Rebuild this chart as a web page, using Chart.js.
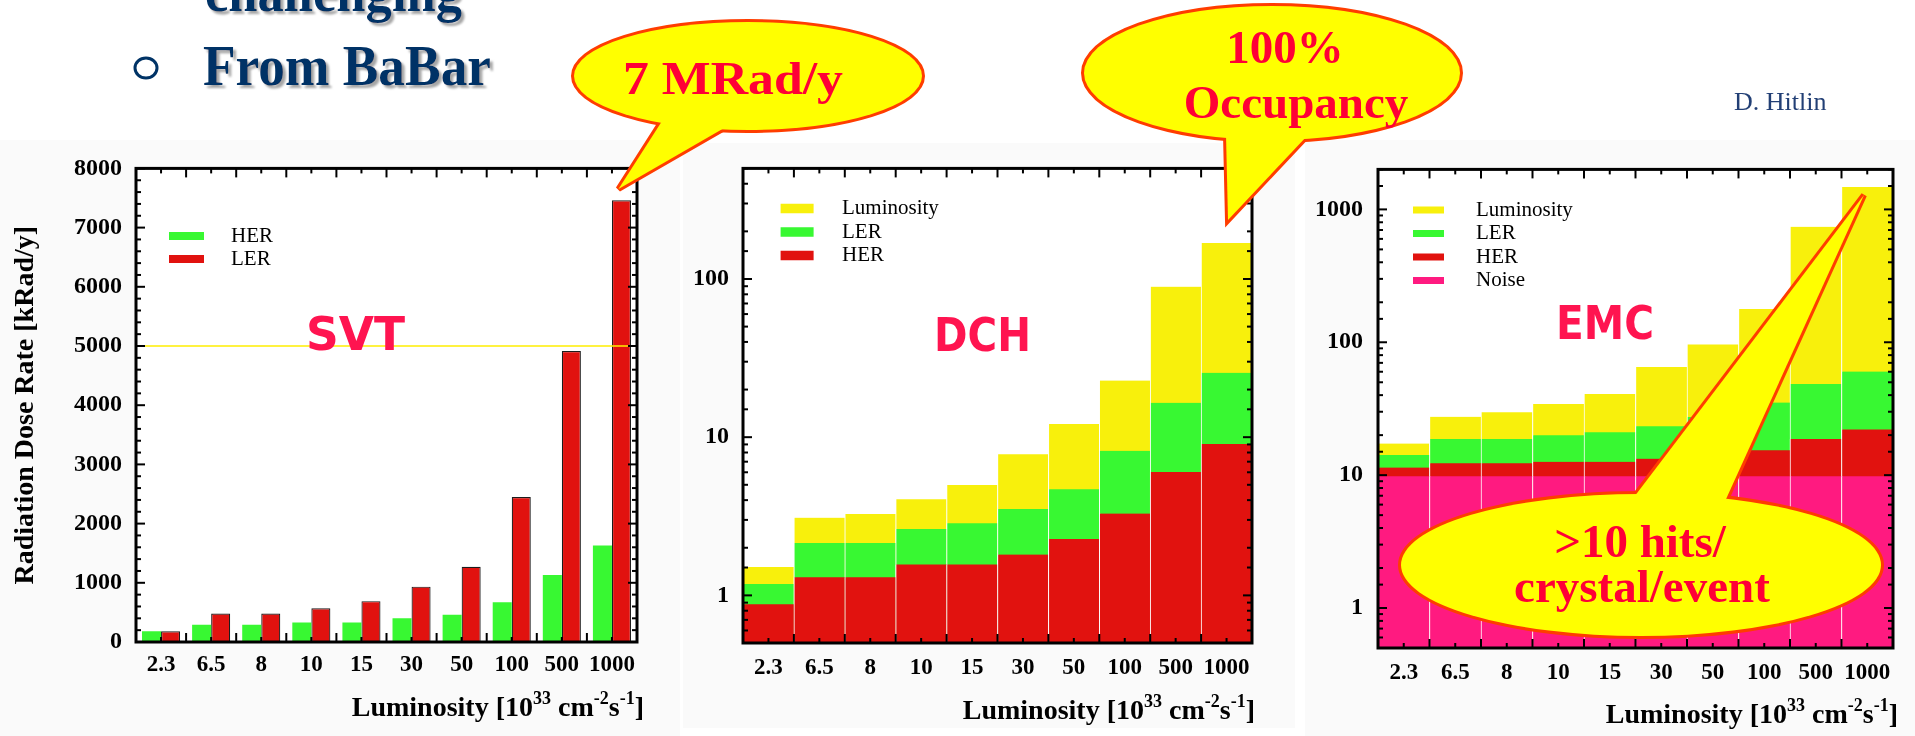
<!DOCTYPE html>
<html>
<head>
<meta charset="utf-8">
<script src="https://cdn.jsdelivr.net/npm/chart.js@4.4.1/dist/chart.umd.min.js"></script>
<style>
  html, body { margin: 0; padding: 0; background: #fff; }
  #page { position: relative; width: 1915px; height: 736px; overflow: hidden; background: #fff; }
  .panel { position: absolute; background: #fafafa; }
  canvas { position: absolute; }
  svg { position: absolute; left: 0; top: 0; }
</style>
</head>
<body>
<div id="page">
  <div class="panel" style="left:0;top:140px;width:680px;height:596px"></div>
  <div class="panel" style="left:683px;top:143px;width:612px;height:585px"></div>
  <div class="panel" style="left:1305px;top:140px;width:610px;height:596px"></div>

  <canvas id="svt" width="680" height="596" style="left:0;top:140px"></canvas>
  <canvas id="dch" width="600" height="596" style="left:680px;top:140px"></canvas>
  <canvas id="emc" width="625" height="596" style="left:1290px;top:140px"></canvas>

  <svg width="1915" height="736" viewBox="0 0 1915 736">
    <defs>
      <filter id="shadow" x="-5%" y="-30%" width="115%" height="170%">
        <feDropShadow dx="3" dy="3" stdDeviation="0.8" flood-color="#9c9c9c" flood-opacity="0.9"/>
      </filter>
    </defs>

    <!-- slide text -->
    <g font-family="'Liberation Serif','Times New Roman',serif" font-weight="bold" fill="#003366" filter="url(#shadow)">
      <text x="205" y="11" font-size="58" textLength="257" lengthAdjust="spacingAndGlyphs">challenging</text>
      <text x="203" y="85" font-size="58" textLength="288" lengthAdjust="spacingAndGlyphs">From BaBar</text>
    </g>
    <ellipse cx="146" cy="68" rx="11" ry="10" fill="none" stroke="#003366" stroke-width="3"/>
    <text x="1734" y="110" font-family="'Liberation Serif','Times New Roman',serif" font-size="26" fill="#223f75">D. Hitlin</text>

    <!-- detector names -->
    <g font-family="'DejaVu Sans',sans-serif" font-weight="bold" font-size="46" fill="#ff1450">
      <text x="306" y="350" textLength="99" lengthAdjust="spacingAndGlyphs">SVT</text>
      <text x="934" y="351" textLength="97" lengthAdjust="spacingAndGlyphs">DCH</text>
      <text x="1556" y="339" textLength="98" lengthAdjust="spacingAndGlyphs">EMC</text>
    </g>

    <!-- x axis titles -->
    <g font-family="'Liberation Serif','Times New Roman',serif" font-weight="bold" font-size="28" fill="#000" text-anchor="end">
      <text x="644" y="716">Luminosity [10<tspan dy="-12" font-size="18">33</tspan><tspan dy="12"> cm</tspan><tspan dy="-12" font-size="18">-2</tspan><tspan dy="12">s</tspan><tspan dy="-12" font-size="18">-1</tspan><tspan dy="12">]</tspan></text>
      <text x="1255" y="719">Luminosity [10<tspan dy="-12" font-size="18">33</tspan><tspan dy="12"> cm</tspan><tspan dy="-12" font-size="18">-2</tspan><tspan dy="12">s</tspan><tspan dy="-12" font-size="18">-1</tspan><tspan dy="12">]</tspan></text>
      <text x="1898" y="723">Luminosity [10<tspan dy="-12" font-size="18">33</tspan><tspan dy="12"> cm</tspan><tspan dy="-12" font-size="18">-2</tspan><tspan dy="12">s</tspan><tspan dy="-12" font-size="18">-1</tspan><tspan dy="12">]</tspan></text>
    </g>

    <!-- speech bubbles: thick outline first, fills on top leave one merged edge -->
    <g stroke="#ff3d00" stroke-width="6" stroke-linejoin="miter" fill="#ffff00">
      <ellipse cx="748" cy="76" rx="174" ry="54"/>
      <polygon points="665.9,114.9 618.5,189 732.4,123.3"/>
      <ellipse cx="748" cy="76" rx="174" ry="54" stroke="none"/>
      <polygon points="665.9,114.9 618.5,189 732.4,123.3" stroke="none"/>

      <ellipse cx="1272" cy="73" rx="188" ry="67"/>
      <polygon points="1225.8,126 1228,220 1312.9,129.7"/>
      <ellipse cx="1272" cy="73" rx="188" ry="67" stroke="none"/>
      <polygon points="1225.8,126 1228,220 1312.9,129.7" stroke="none"/>

      <ellipse cx="1641" cy="565" rx="240" ry="71"/>
      <polygon points="1631.4,500.5 1864,195 1722.9,506.1"/>
      <ellipse cx="1641" cy="565" rx="240" ry="71" stroke="none"/>
      <polygon points="1631.4,500.5 1864,195 1722.9,506.1" stroke="none"/>
    </g>
    <g font-family="'Liberation Serif','Times New Roman',serif" font-weight="bold" font-size="47" fill="#ff0036" text-anchor="middle">
      <text x="733" y="94" textLength="220" lengthAdjust="spacingAndGlyphs">7 MRad/y</text>
      <text x="1285" y="63">100%</text>
      <text x="1296" y="118">Occupancy</text>
      <text x="1640" y="557">&gt;10 hits/</text>
      <text x="1642" y="602">crystal/event</text>
    </g>
  </svg>
</div>

<script>
// Luminosity points [10^33 cm^-2 s^-1]
const luminosity = ['2.3', '6.5', '8', '10', '15', '30', '50', '100', '500', '1000'];

// SVT radiation dose rate [kRad/y]
const svtHER = [180, 290, 290, 330, 330, 400, 460, 670, 1130, 1630];
const svtLER = [180, 480, 480, 570, 690, 935, 1270, 2450, 4915, 7460];
const svtLimit = 5000;

// DCH occupancy: top of each band (HER, then HER+LER, then total with luminosity term)
const dchHER  = [0.88, 1.30, 1.30, 1.57, 1.57, 1.81, 2.27, 3.29, 6.02, 9.06];
const dchLER  = [1.18, 2.14, 2.14, 2.63, 2.86, 3.51, 4.69, 8.2, 16.5, 25.5];
const dchLumi = [1.51, 3.10, 3.27, 4.05, 4.98, 7.8, 12.1, 22.8, 89.4, 169];

// EMC rate: top of each band (noise, +HER, +LER, +luminosity term)
const emcNoise = [9.8, 9.8, 9.8, 9.8, 9.8, 9.8, 9.8, 9.8, 9.8, 9.8];
const emcHER   = [11.4, 12.3, 12.3, 12.6, 12.6, 13.3, 13.8, 15.4, 18.7, 22.1];
const emcLER   = [14.2, 18.7, 18.7, 20.0, 21.0, 23.3, 27.4, 35.2, 48.6, 60.2];
const emcLumi  = [17.3, 27.5, 29.7, 34.3, 40.8, 65.0, 96.4, 178, 739, 1475];

const GREEN = '#38f832';
const RED = '#e1120f';
const YELLOW = '#f8f00c';
const PINK = '#ff1a80';
const SERIF = "'Liberation Serif', 'Times New Roman', serif";

Chart.defaults.font.family = SERIF;
Chart.defaults.color = '#000';

// White plot area, inward tick marks on all four sides, box frame, limit line and legend box
const framePlugin = {
  id: 'frame',
  beforeDraw(chart) {
    const { ctx, chartArea: a } = chart;
    ctx.save();
    ctx.fillStyle = '#fff';
    ctx.fillRect(a.left, a.top, a.right - a.left, a.bottom - a.top);
    ctx.restore();
  },
  afterDatasetsDraw(chart, args, o) {
    const { ctx, chartArea: a, scales: { x, y } } = chart;
    ctx.save();

    if (o.limit != null) {
      const py = y.getPixelForValue(o.limit);
      ctx.strokeStyle = '#ffee00';
      ctx.lineWidth = 1.5;
      ctx.beginPath();
      ctx.moveTo(a.left + 6, py);
      ctx.lineTo(a.right - 9, py);
      ctx.stroke();
    }

    ctx.strokeStyle = '#000';
    ctx.lineWidth = 2;
    const mark = (x1, y1, x2, y2) => {
      ctx.beginPath(); ctx.moveTo(x1, y1); ctx.lineTo(x2, y2); ctx.stroke();
    };

    const yt = [];
    if (y.type === 'logarithmic') {
      y.ticks.forEach(t => {
        const l = Math.log10(t.value);
        yt.push({ v: t.value, major: Math.abs(l - Math.round(l)) < 1e-6 });
      });
    } else {
      for (let v = y.min; v <= y.max; v += o.minorStep) {
        yt.push({ v, major: v % o.majorStep === 0 });
      }
    }
    yt.forEach(t => {
      const py = y.getPixelForValue(t.v);
      const len = t.major ? 9 : 5;
      mark(a.left, py, a.left + len, py);
      mark(a.right, py, a.right - len, py);
    });

    const n = x.ticks.length;
    const w = (a.right - a.left) / n;
    for (let i = 1; i < n; i++) {
      const px = a.left + i * w;
      mark(px, a.bottom, px, a.bottom - 9);
      mark(px, a.top, px, a.top + 9);
    }
    for (let i = 0; i < n; i++) {
      const px = x.getPixelForValue(i);
      mark(px, a.bottom, px, a.bottom - 5);
      mark(px, a.top, px, a.top + 5);
    }

    ctx.lineWidth = 3;
    ctx.strokeRect(a.left, a.top, a.right - a.left, a.bottom - a.top);

    const lg = o.legend;
    if (lg) {
      ctx.font = '21px ' + SERIF;
      ctx.textBaseline = 'middle';
      ctx.textAlign = 'left';
      chart.data.datasets.forEach((ds, i) => {
        const cy = lg.y + i * lg.step;
        ctx.fillStyle = ds.backgroundColor;
        ctx.fillRect(lg.x, cy - lg.h / 2, lg.w, lg.h);
        ctx.fillStyle = '#000';
        ctx.fillText(ds.label, lg.textX, cy);
      });
    }
    ctx.restore();
  }
};

const decadeLabel = v => {
  const l = Math.log10(v);
  return Math.abs(l - Math.round(l)) < 1e-6 ? String(Math.round(v)) : '';
};

const xAxis = (height, pad) => ({
  grid: { display: false, drawTicks: false },
  border: { display: false },
  ticks: { font: { size: 23, weight: 'bold' }, padding: pad, maxRotation: 0, autoSkip: false },
  afterFit: s => { s.height = height; }
});

const baseOptions = (padding) => ({
  responsive: false,
  animation: false,
  events: [],
  layout: { padding, autoPadding: false },
  plugins: { legend: { display: false }, tooltip: { enabled: false } }
});

// SVT
{
  const opts = baseOptions({ top: 25, right: 43, left: 0, bottom: 0 });
  opts.datasets = { bar: { barPercentage: 1, categoryPercentage: 0.76 } };
  opts.plugins.frame = {
    limit: svtLimit, minorStep: 200, majorStep: 1000,
    legend: { x: 169, y: 96, step: 23, w: 35, h: 8, textX: 231 }
  };
  opts.scales = {
    x: xAxis(94, 9),
    y: {
      min: 0, max: 8000,
      grid: { display: false, drawTicks: false },
      border: { display: false },
      ticks: { stepSize: 1000, callback: v => String(v), font: { size: 24, weight: 'bold' }, padding: 14 },
      title: {
        display: true, text: 'Radiation Dose Rate [kRad/y]',
        font: { size: 28, weight: 'bold' }, padding: { top: 9, bottom: 0 }
      },
      afterFit: s => { s.width = 136; }
    }
  };
  new Chart(document.getElementById('svt'), {
    type: 'bar',
    data: {
      labels: luminosity,
      datasets: [
        { label: 'HER', data: svtHER, backgroundColor: GREEN, borderWidth: 0 },
        { label: 'LER', data: svtLER, backgroundColor: RED, borderColor: '#1c1c1c', borderWidth: 1.2 }
      ]
    },
    options: opts,
    plugins: [framePlugin]
  });
}

const bandBar = { barPercentage: 1, categoryPercentage: 1, grouped: false,
  borderColor: '#ffffff', borderWidth: { left: 1, right: 0, top: 0, bottom: 0 } };

// DCH
{
  const opts = baseOptions({ top: 22, right: 28, left: 0, bottom: 0 });
  opts.datasets = { bar: bandBar };
  opts.plugins.frame = { legend: { x: 100.6, y: 68.5, step: 23.5, w: 33, h: 9.5, textX: 162 } };
  opts.scales = {
    x: xAxis(93, 11),
    y: {
      type: 'logarithmic', min: 0.5, max: 500,
      grid: { display: false, drawTicks: false },
      border: { display: false },
      ticks: { autoSkip: false, callback: decadeLabel, font: { size: 24, weight: 'bold' }, padding: 14 },
      afterFit: s => { s.width = 63; }
    }
  };
  new Chart(document.getElementById('dch'), {
    type: 'bar',
    data: {
      labels: luminosity,
      datasets: [
        { label: 'Luminosity', data: dchLumi, backgroundColor: YELLOW, order: 3 },
        { label: 'LER', data: dchLER, backgroundColor: GREEN, order: 2 },
        { label: 'HER', data: dchHER, backgroundColor: RED, order: 1 }
      ]
    },
    options: opts,
    plugins: [framePlugin]
  });
}

// EMC
{
  const opts = baseOptions({ top: 22, right: 22, left: 0, bottom: 0 });
  opts.datasets = { bar: bandBar };
  opts.plugins.frame = { legend: { x: 123, y: 70, step: 23.5, w: 31, h: 7, textX: 186 } };
  opts.scales = {
    x: xAxis(88, 11),
    y: {
      type: 'logarithmic', min: 0.5, max: 2000,
      grid: { display: false, drawTicks: false },
      border: { display: false },
      ticks: { autoSkip: false, callback: decadeLabel, font: { size: 24, weight: 'bold' }, padding: 15 },
      afterFit: s => { s.width = 88; }
    }
  };
  new Chart(document.getElementById('emc'), {
    type: 'bar',
    data: {
      labels: luminosity,
      datasets: [
        { label: 'Luminosity', data: emcLumi, backgroundColor: YELLOW, order: 3 },
        { label: 'LER', data: emcLER, backgroundColor: GREEN, order: 2 },
        { label: 'HER', data: emcHER, backgroundColor: RED, order: 1 },
        { label: 'Noise', data: emcNoise, backgroundColor: PINK, order: 0 }
      ]
    },
    options: opts,
    plugins: [framePlugin]
  });
}
</script>
</body>
</html>
